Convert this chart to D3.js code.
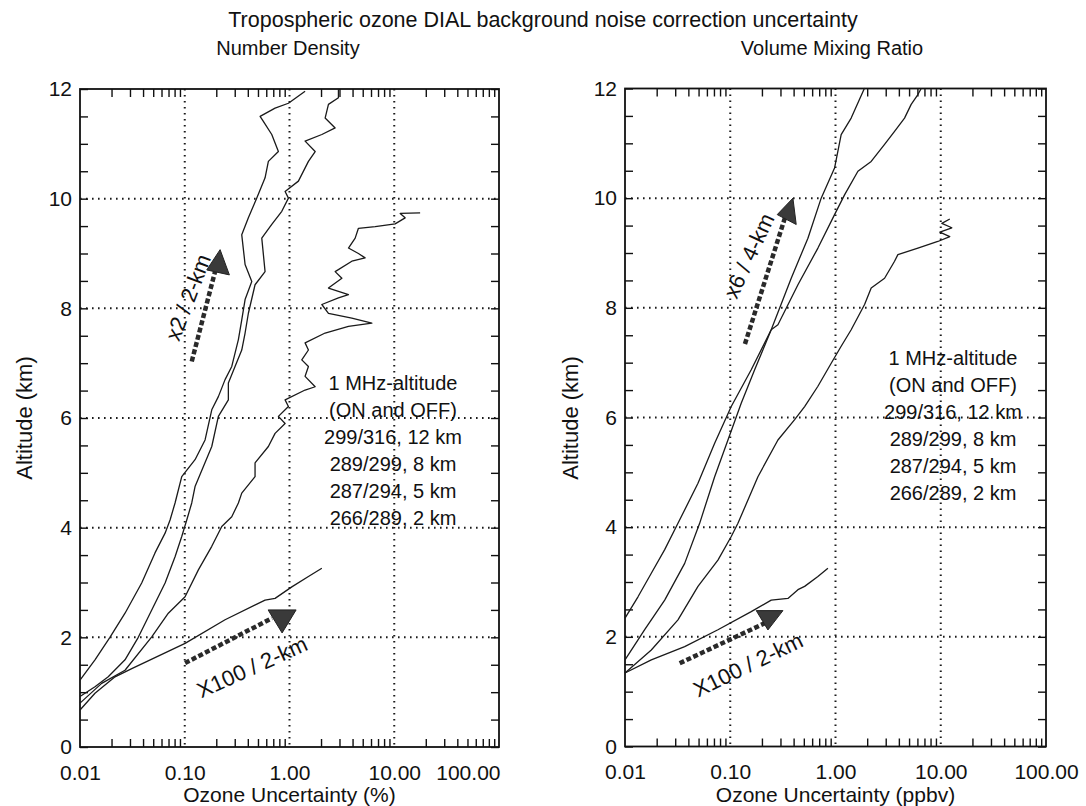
<!DOCTYPE html>
<html><head><meta charset="utf-8">
<script src="https://cdn.jsdelivr.net/npm/d3@7"></script>
<style>
body{margin:0;background:#fff}
text{font-family:"Liberation Sans",Arial,sans-serif;fill:#111}
</style>
</head><body>
<svg id="chart" width="1086" height="806"></svg>
<script>
// ---------- tick labels ----------
const xTickValues = [0.01, 0.1, 1, 10, 100];
const xTickLabels = ["0.01", "0.10", "1.00", "10.00", "100.00"];
const yTickValues = [0, 2, 4, 6, 8, 10, 12];
const legendLines = ["1 MHz-altitude", "(ON and OFF)", "299/316, 12 km", "289/299, 8 km", "287/294, 5 km", "266/289, 2 km"];

// ---------- Number Density panel: [uncertainty %, altitude km] ----------
const nd12km = [[0.01,1.22],[0.0139,1.59],[0.0193,2.0],[0.0269,2.44],[0.0388,2.99],[0.052,3.54],[0.0649,3.9],[0.0724,4.14],[0.0808,4.45],[0.0936,4.93],[0.1254,5.24],[0.1563,5.6],[0.1811,6.15],[0.2094,6.39],[0.2426,6.7],[0.2811,6.94],[0.3251,7.43],[0.3501,7.79],[0.3767,8.16],[0.4364,8.49],[0.3767,8.8],[0.3501,9.34],[0.4049,9.65],[0.4872,10.01],[0.5845,10.38],[0.6285,10.68],[0.7834,10.86],[0.6771,11.17],[0.563,11.41],[0.5239,11.5],[0.7283,11.65],[0.9766,11.74],[1.409,11.96]];
const nd8km = [[0.01,0.92],[0.0139,1.1],[0.0186,1.28],[0.0269,1.59],[0.036,2.0],[0.0484,2.5],[0.0649,2.99],[0.0808,3.47],[0.0936,3.84],[0.1045,4.14],[0.1166,4.45],[0.1254,4.75],[0.1811,5.48],[0.2094,6.03],[0.2608,6.33],[0.2608,6.64],[0.3021,6.94],[0.3501,7.24],[0.3767,7.55],[0.4049,7.91],[0.469,8.43],[0.5845,8.67],[0.5436,9.28],[0.6771,9.53],[0.844,9.77],[0.9766,10.01],[0.9078,10.13],[1.216,10.32],[1.516,10.68],[1.758,10.86],[1.409,11.05],[2.036,11.17],[2.728,11.29],[2.188,11.47],[2.354,11.72],[2.932,11.84],[2.932,12.0]];
const nd5km = [[0.01,0.8],[0.0161,1.16],[0.0269,1.4],[0.0484,2.01],[0.0697,2.44],[0.1007,2.74],[0.1349,3.23],[0.1811,3.66],[0.2256,4.02],[0.2811,4.2],[0.3251,4.45],[0.3501,4.63],[0.469,4.93],[0.469,5.18],[0.6285,5.48],[0.7283,5.72],[0.9078,5.9],[0.7834,6.03],[0.9766,6.21],[0.9078,6.33],[1.409,6.51],[1.758,6.57],[1.409,6.76],[1.516,6.94],[1.31,7.06],[1.516,7.24],[1.409,7.37],[2.188,7.55],[3.655,7.67],[6.109,7.73],[3.936,7.82],[2.354,7.91],[2.036,8.07],[2.932,8.19],[3.655,8.25],[2.354,8.37],[3.162,8.55],[2.728,8.67],[3.936,8.86],[5.272,8.92],[4.55,9.0],[3.655,9.1],[4.236,9.28],[4.55,9.46],[6.577,9.49],[10.2,9.54],[12.7,9.65],[11.4,9.73],[17.66,9.74]];
const nd2km = [[0.01,0.675],[0.0139,0.98],[0.0216,1.28],[0.0312,1.43],[0.1007,1.89],[0.2426,2.32],[0.5845,2.68],[0.7283,2.71],[1.052,2.92],[1.516,3.11],[2.036,3.26]];

// ---------- Volume Mixing Ratio panel: [uncertainty ppbv, altitude km] ----------
const vmr12km = [[0.01,2.34],[0.01329,2.73],[0.01778,3.16],[0.02383,3.59],[0.03186,4.07],[0.04936,4.8],[0.07109,5.53],[0.1022,6.2],[0.1582,6.87],[0.245,7.6],[0.3796,8.54],[0.547,9.27],[0.7311,10.0],[0.9795,10.55],[1.132,11.16],[1.409,11.46],[1.889,12.01]];
const vmr8km = [[0.01,1.58],[0.01538,2.13],[0.02383,2.67],[0.0369,3.34],[0.05119,4.07],[0.07109,4.92],[0.09509,5.59],[0.1271,6.26],[0.1705,6.87],[0.245,7.6],[0.2838,7.69],[0.4396,8.42],[0.6806,9.09],[0.9795,9.7],[1.219,10.06],[1.633,10.49],[2.183,10.67],[2.926,10.98],[3.64,11.22],[4.529,11.46],[5.236,11.71],[6.064,11.89],[6.516,12.0]];
const vmr5km = [[0.01,1.34],[0.01778,1.76],[0.03186,2.31],[0.04936,2.92],[0.07638,3.4],[0.1022,3.83],[0.1183,4.07],[0.1832,4.92],[0.2838,5.59],[0.4091,5.96],[0.509,6.2],[0.6806,6.57],[0.9103,6.99],[1.132,7.3],[1.409,7.6],[1.889,8.06],[2.183,8.36],[2.926,8.54],[3.64,8.85],[3.915,8.97],[6.064,9.09],[9.376,9.21],[12.19,9.3],[9.8,9.38],[12.74,9.46],[10.24,9.54],[12.19,9.62]];
const vmr2km = [[0.01,1.34],[0.01778,1.58],[0.0369,1.82],[0.07638,2.13],[0.1582,2.46],[0.245,2.67],[0.3532,2.7],[0.4396,2.86],[0.509,2.92],[0.6806,3.1],[0.8472,3.25]];

// ---------- annotations (data coordinates) ----------
const ndArrows = [
  {label:"x2 / 2-km", from:[0.1166,7.03], to:[0.1947,8.67], head:[[0.2175,9.07],[0.1622,8.70],[0.2667,8.61]], text:[0.1075,8.2], angle:-69},
  {label:"X100 / 2-km", from:[0.1007,1.53], to:[0.682,2.35], head:[[0.625,2.5],[1.156,2.5],[0.85,2.08]], text:[0.4395,1.46], angle:-24.5}
];
const vmrArrows = [
  {label:"x6 / 4-km", from:[0.1379,7.34], to:[0.3306,9.64], head:[[0.3939,10.0],[0.2795,9.7],[0.4234,9.52]], text:[0.150,8.95], angle:-65},
  {label:"X100 / 2-km", from:[0.03307,1.518], to:[0.2122,2.248], head:[[0.1766,2.478],[0.3166,2.478],[0.228,2.126]], text:[0.1472,1.49], angle:-26}
];

const svg = d3.select("#chart");
const FONT = 20, TICKFONT = 21, NOTEFONT = 22, YLABFONT = 22;

svg.append("text").attr("x", 543).attr("y", 27).attr("text-anchor","middle")
  .style("font-size", "21.5px").text("Tropospheric ozone DIAL background noise correction uncertainty");

const panels = [
  {title:"Number Density", xlabel:"Ozone Uncertainty (%)", left:80, right:499, top:89, bottom:747, lastLabelEnd:true,
   series:[nd12km, nd8km, nd5km, nd2km], arrows:ndArrows, legendX:393, legendY:390, ylabX:32, titleX:288, titleY:55},
  {title:"Volume Mixing Ratio", xlabel:"Ozone Uncertainty (ppbv)", left:625, right:1046, top:88.5, bottom:746.5, lastLabelEnd:false,
   series:[vmr12km, vmr8km, vmr5km, vmr2km], arrows:vmrArrows, legendX:953, legendY:365, ylabX:578, titleX:832, titleY:55}
];

const minorX = [];
[0.01, 0.1, 1, 10].forEach(d => { for (let k = 2; k <= 9; k++) minorX.push(d * k); });
const halfY = d3.range(0, 12.01, 0.5);

panels.forEach(p => {
  const x = d3.scaleLog().domain([0.01, 100]).range([p.left, p.right]);
  const y = d3.scaleLinear().domain([0, 12]).range([p.bottom, p.top]);
  const g = svg.append("g");

  // grid (dotted)
  g.append("g").selectAll("line").data([0.1, 1, 10]).join("line")
    .attr("x1", d => x(d)).attr("x2", d => x(d)).attr("y1", p.top).attr("y2", p.bottom)
    .attr("stroke", "#1a1a1a").attr("stroke-width", 2).attr("stroke-dasharray", "1.6,4.4");
  g.append("g").selectAll("line").data([2, 4, 6, 8, 10]).join("line")
    .attr("x1", p.left).attr("x2", p.right).attr("y1", d => y(d)).attr("y2", d => y(d))
    .attr("stroke", "#1a1a1a").attr("stroke-width", 2).attr("stroke-dasharray", "1.6,4.4");

  // inward minor ticks on all four sides
  const tickStyle = sel => { sel.select(".domain").remove(); sel.selectAll("line").attr("stroke","#111").attr("stroke-width",1.4); };
  g.append("g").attr("transform", `translate(0,${p.bottom})`)
    .call(d3.axisBottom(x).tickValues(minorX).tickSize(-8).tickFormat("")).call(tickStyle);
  g.append("g").attr("transform", `translate(0,${p.top})`)
    .call(d3.axisTop(x).tickValues(minorX).tickSize(-8).tickFormat("")).call(tickStyle);
  g.append("g").attr("transform", `translate(${p.left},0)`)
    .call(d3.axisLeft(y).tickValues(halfY).tickSize(-8).tickFormat("")).call(tickStyle);
  g.append("g").attr("transform", `translate(${p.right},0)`)
    .call(d3.axisRight(y).tickValues(halfY).tickSize(-8).tickFormat("")).call(tickStyle);

  // tick labels
  const xa = g.append("g").attr("transform", `translate(0,${p.bottom})`)
    .call(d3.axisBottom(x).tickValues(xTickValues).tickSize(0).tickPadding(18).tickFormat((d,i) => xTickLabels[i]));
  xa.select(".domain").remove();
  xa.selectAll("text").style("font-size", TICKFONT+"px").attr("fill","#111").style("font-family","'Liberation Sans',Arial,sans-serif");
  if (p.lastLabelEnd) {
    xa.selectAll(".tick").filter(d => d === 100).select("text").attr("text-anchor", "end").attr("x", 1);
  }
  const ya = g.append("g").attr("transform", `translate(${p.left},0)`)
    .call(d3.axisLeft(y).tickValues(yTickValues).tickSize(0).tickPadding(8).tickFormat(d3.format("d")));
  ya.select(".domain").remove();
  ya.selectAll("text").style("font-size", TICKFONT+"px").attr("fill","#111").style("font-family","'Liberation Sans',Arial,sans-serif");

  // frame
  g.append("rect").attr("x", p.left).attr("y", p.top).attr("width", p.right - p.left).attr("height", p.bottom - p.top)
    .attr("fill", "none").attr("stroke", "#111").attr("stroke-width", 1.8);

  // curves
  const line = d3.line().x(d => x(d[0])).y(d => y(d[1]));
  g.append("g").selectAll("path").data(p.series).join("path")
    .attr("d", line).attr("fill", "none").attr("stroke", "#1a1a1a").attr("stroke-width", 1.3).attr("stroke-linejoin","round");

  // arrows
  p.arrows.forEach(a => {
    g.append("line").attr("x1", x(a.from[0])).attr("y1", y(a.from[1])).attr("x2", x(a.to[0])).attr("y2", y(a.to[1]))
      .attr("stroke", "#2a2a2a").attr("stroke-width", 4.5).attr("stroke-dasharray", "5,2.5");
    g.append("polygon").attr("points", a.head.map(h => [x(h[0]), y(h[1])].join(",")).join(" "))
      .attr("fill", "#3a3a3a").attr("stroke", "#222").attr("stroke-width", 1);
    g.append("text").attr("transform", `translate(${x(a.text[0])},${y(a.text[1])}) rotate(${a.angle})`)
      .attr("text-anchor", "middle").attr("dy", "0.35em").style("font-size", NOTEFONT+"px").text(a.label);
  });

  // legend text block
  g.append("g").selectAll("text").data(legendLines).join("text")
    .attr("x", p.legendX).attr("y", (d, i) => p.legendY + i * 27).attr("text-anchor", "middle")
    .style("font-size", FONT+"px").text(d => d);

  // titles
  g.append("text").attr("x", p.titleX).attr("y", p.titleY).attr("text-anchor","middle").style("font-size", FONT+"px").text(p.title);
  g.append("text").attr("x", (p.left + p.right) / 2).attr("y", 802).attr("text-anchor","middle").style("font-size", "21px").text(p.xlabel);
  g.append("text").attr("transform", `translate(${p.ylabX},418) rotate(-90)`).attr("text-anchor","middle")
    .style("font-size", YLABFONT+"px").text("Altitude (km)");
});
</script>
</body></html>
